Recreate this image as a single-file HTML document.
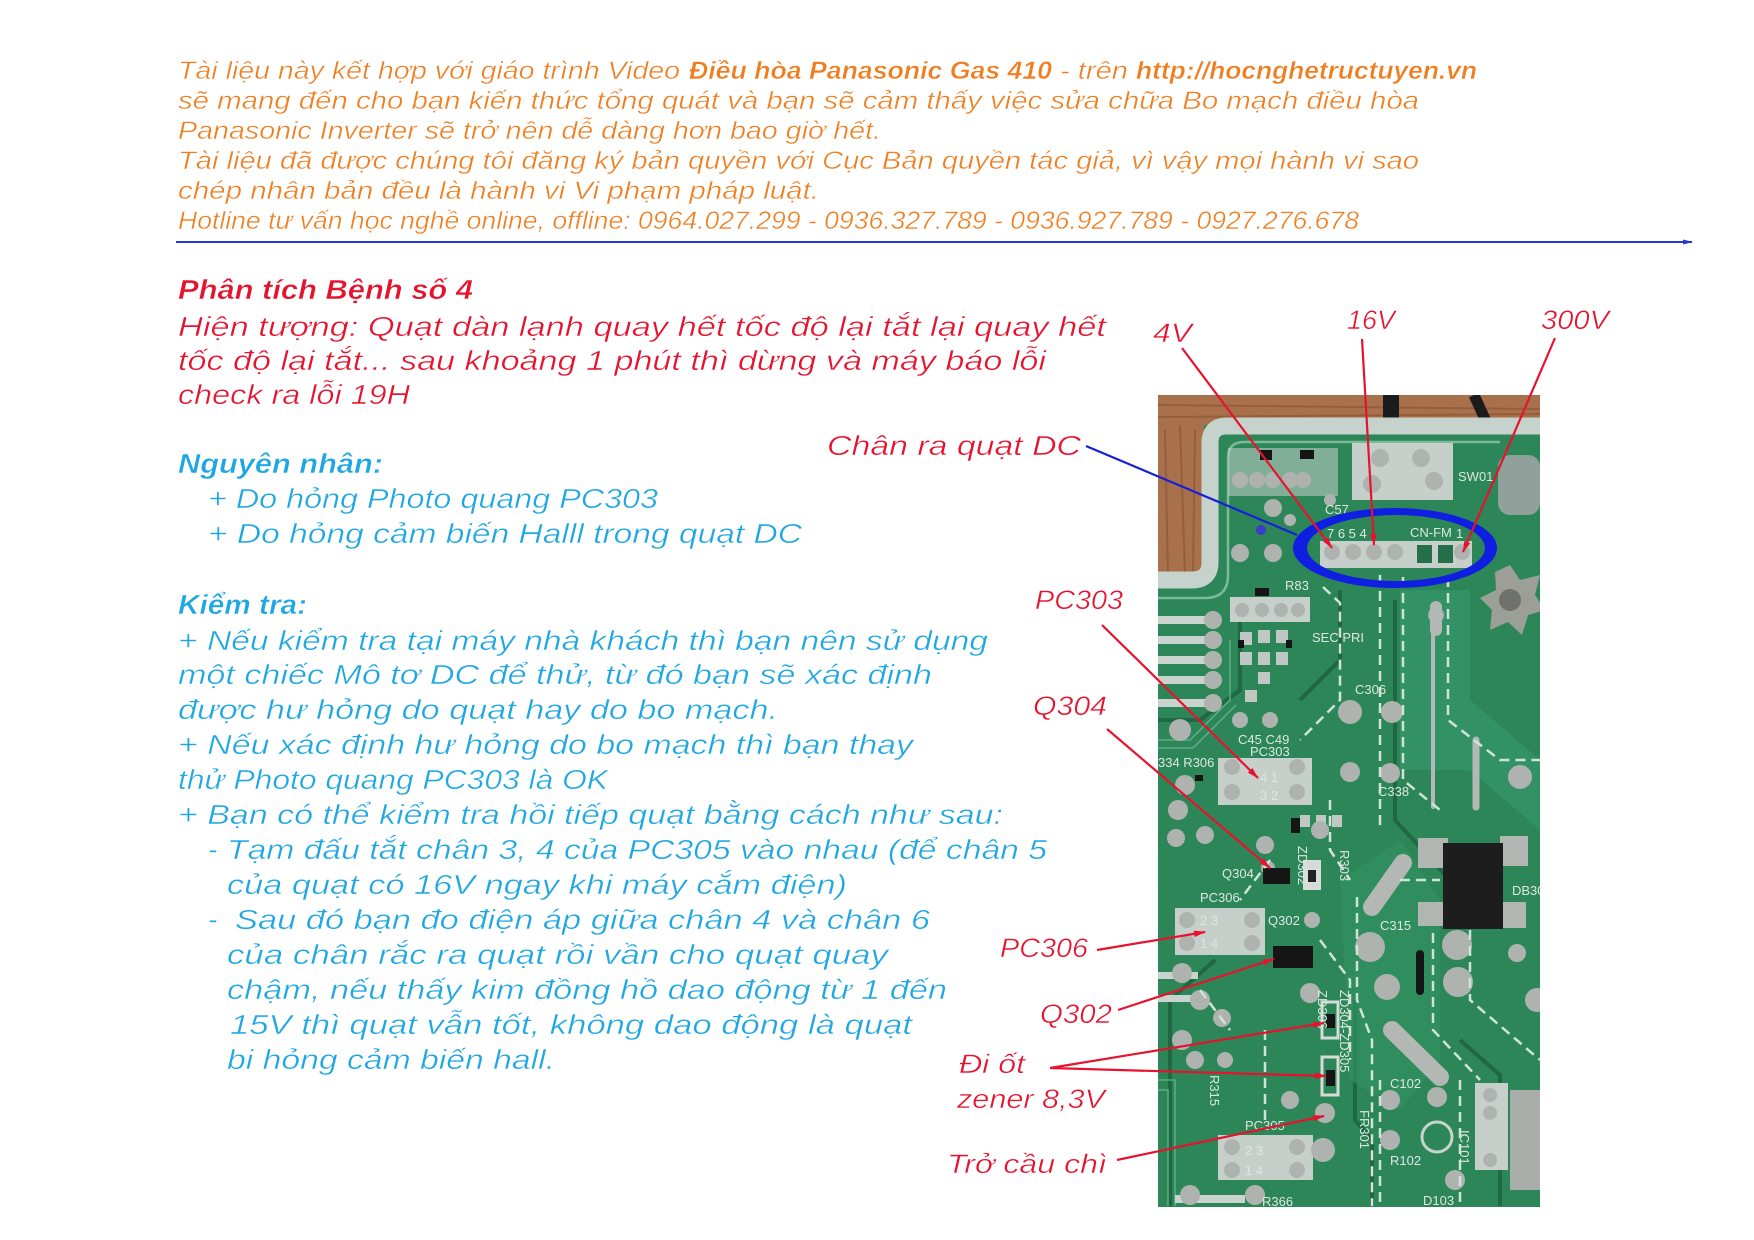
<!DOCTYPE html>
<html><head><meta charset="utf-8"><style>
html,body{margin:0;padding:0;background:#fff;}
svg{display:block;}
text{font-family:"Liberation Sans","DejaVu Sans",sans-serif;font-style:italic;}
.thin text{stroke:#fff;stroke-width:0.45px;}
.pcbt{font-family:"Liberation Sans","DejaVu Sans",sans-serif;font-style:normal;fill:#dde7e2;font-size:13px;}
</style></head><body>
<svg width="1754" height="1240" viewBox="0 0 1754 1240" xmlns="http://www.w3.org/2000/svg">
<defs>
<marker id="ar" markerWidth="12" markerHeight="8" refX="11" refY="4" orient="auto" markerUnits="userSpaceOnUse"><path d="M0,0.8 L12,4 L0,7.2 z" fill="#e5132e"/></marker>
<marker id="ab" markerWidth="10" markerHeight="6" refX="9" refY="3" orient="auto" markerUnits="userSpaceOnUse"><path d="M0,0.5 L10,3 L0,5.5 z" fill="#2239d4"/></marker>
<clipPath id="pc"><rect x="1158" y="395" width="382" height="812"/></clipPath>
</defs>

<!-- HEADER -->
<g class="thin" fill="#F07D1E" font-size="25">
<text x="178" y="79" textLength="502" lengthAdjust="spacingAndGlyphs">Tài liệu này kết hợp với giáo trình Video</text>
<text x="689" y="79" font-weight="bold" textLength="363" lengthAdjust="spacingAndGlyphs">Điều hòa Panasonic Gas 410</text>
<text x="1060" y="79" textLength="68" lengthAdjust="spacingAndGlyphs">- trên</text>
<text x="1136" y="79" font-weight="bold" textLength="341" lengthAdjust="spacingAndGlyphs">http://hocnghetructuyen.vn</text>
<text x="178" y="109" textLength="1241" lengthAdjust="spacingAndGlyphs">sẽ mang đến cho bạn kiến thức tổng quát và bạn sẽ cảm thấy việc sửa chữa Bo mạch điều hòa</text>
<text x="178" y="139" textLength="703" lengthAdjust="spacingAndGlyphs">Panasonic Inverter sẽ trở nên dễ dàng hơn bao giờ hết.</text>
<text x="178" y="169" textLength="1241" lengthAdjust="spacingAndGlyphs">Tài liệu đã được chúng tôi đăng ký bản quyền với Cục Bản quyền tác giả, vì vậy mọi hành vi sao</text>
<text x="178" y="199" textLength="641" lengthAdjust="spacingAndGlyphs">chép nhân bản đều là hành vi Vi phạm pháp luật.</text>
<text x="178" y="229" textLength="1181" lengthAdjust="spacingAndGlyphs">Hotline tư vấn học nghề online, offline: 0964.027.299 - 0936.327.789 - 0936.927.789 - 0927.276.678</text>
</g>
<line x1="176" y1="242" x2="1692" y2="242" stroke="#2239d4" stroke-width="2" marker-end="url(#ab)"/>

<!-- RED BODY -->
<g class="thin" fill="#E5132E" font-size="28">
<text x="178" y="299" font-weight="bold" textLength="295" lengthAdjust="spacingAndGlyphs">Phân tích Bệnh số 4</text>
<text x="178" y="336" textLength="928" lengthAdjust="spacingAndGlyphs">Hiện tượng: Quạt dàn lạnh quay hết tốc độ lại tắt lại quay hết</text>
<text x="178" y="370" textLength="868" lengthAdjust="spacingAndGlyphs">tốc độ lại tắt... sau khoảng 1 phút thì dừng và máy báo lỗi</text>
<text x="178" y="404" textLength="232" lengthAdjust="spacingAndGlyphs">check ra lỗi 19H</text>
<text x="827" y="455" textLength="254" lengthAdjust="spacingAndGlyphs">Chân ra quạt DC</text>
</g>

<!-- CYAN BODY -->
<g class="thin" fill="#1EA7E2" font-size="28">
<text x="178" y="473" font-weight="bold" textLength="205" lengthAdjust="spacingAndGlyphs">Nguyên nhân:</text>
<text x="208" y="508" textLength="450" lengthAdjust="spacingAndGlyphs">+ Do hỏng Photo quang PC303</text>
<text x="208" y="543" textLength="594" lengthAdjust="spacingAndGlyphs">+ Do hỏng cảm biến Halll trong quạt DC</text>
<text x="178" y="614" font-weight="bold" textLength="129" lengthAdjust="spacingAndGlyphs">Kiểm tra:</text>
<text x="178" y="650" textLength="810" lengthAdjust="spacingAndGlyphs">+ Nếu kiểm tra tại máy nhà khách thì bạn nên sử dụng</text>
<text x="178" y="684" textLength="754" lengthAdjust="spacingAndGlyphs">một chiếc Mô tơ DC để thử, từ đó bạn sẽ xác định</text>
<text x="178" y="719" textLength="600" lengthAdjust="spacingAndGlyphs">được hư hỏng do quạt hay do bo mạch.</text>
<text x="178" y="754" textLength="735" lengthAdjust="spacingAndGlyphs">+ Nếu xác định hư hỏng do bo mạch thì bạn thay</text>
<text x="178" y="789" textLength="430" lengthAdjust="spacingAndGlyphs">thử Photo quang PC303 là OK</text>
<text x="178" y="824" textLength="825" lengthAdjust="spacingAndGlyphs">+ Bạn có thể kiểm tra hồi tiếp quạt bằng cách như sau:</text>
<text x="208" y="859">-</text>
<text x="227" y="859" textLength="820" lengthAdjust="spacingAndGlyphs">Tạm đấu tắt chân 3, 4 của PC305 vào nhau (để chân 5</text>
<text x="227" y="894" textLength="620" lengthAdjust="spacingAndGlyphs">của quạt có 16V ngay khi máy cắm điện)</text>
<text x="208" y="929">-</text>
<text x="235" y="929" textLength="695" lengthAdjust="spacingAndGlyphs">Sau đó bạn đo điện áp giữa chân 4 và chân 6</text>
<text x="227" y="964" textLength="661" lengthAdjust="spacingAndGlyphs">của chân rắc ra quạt rồi vần cho quạt quay</text>
<text x="227" y="999" textLength="720" lengthAdjust="spacingAndGlyphs">chậm, nếu thấy kim đồng hồ dao động từ 1 đến</text>
<text x="230" y="1034" textLength="682" lengthAdjust="spacingAndGlyphs">15V  thì quạt vẫn tốt, không dao động là quạt</text>
<text x="227" y="1069" textLength="328" lengthAdjust="spacingAndGlyphs">bi hỏng cảm biến hall.</text>
</g>

<!-- PCB PHOTO -->
<g clip-path="url(#pc)">
<rect x="1158" y="395" width="382" height="812" fill="#2d8658"/>
<!-- wood -->
<rect x="1158" y="395" width="382" height="30" fill="#a9714b"/>
<rect x="1158" y="395" width="46" height="180" fill="#a9714b"/>
<g stroke="#8c5736" stroke-width="2" opacity="0.7">
<line x1="1158" y1="405" x2="1540" y2="409"/><line x1="1158" y1="417" x2="1540" y2="414"/>
<line x1="1165" y1="430" x2="1168" y2="575"/><line x1="1180" y1="425" x2="1185" y2="575"/><line x1="1195" y1="430" x2="1193" y2="575"/>
</g>
<!-- cables -->
<rect x="1383" y="395" width="16" height="36" fill="#1b1b1b"/>
<path d="M1474,395 L1490,430" stroke="#1b1b1b" stroke-width="11"/>
<!-- board edge frame -->
<path d="M1158,580 L1192,580 Q1210,580 1210,562 L1210,443 Q1210,426 1227,426 L1540,426" fill="none" stroke="#c6d3cd" stroke-width="17"/>
<path d="M1158,598 L1205,598 Q1228,598 1228,575 L1228,458 Q1228,442 1244,442 L1500,442" fill="none" stroke="#7cba98" stroke-width="2.5"/>
<!-- dark trace channels -->
<g fill="none" stroke="#1f6843" stroke-width="4">
<path d="M1158,720 L1200,720 L1240,690 L1240,600"/>
<path d="M1170,1206 L1170,1000 L1215,960"/>
<path d="M1300,700 L1340,660 L1340,590"/>
<path d="M1372,1206 L1372,1140 L1355,1120 L1355,1000"/>
<path d="M1460,1040 L1500,1075 L1500,1206"/>
<path d="M1395,600 L1395,820 L1450,880"/>
</g>
<!-- thin light traces on left -->
<g fill="none" stroke="#5fae85" stroke-width="1.5">
<path d="M1158,740 L1190,740 L1230,700 L1230,640"/>
<path d="M1158,748 L1193,748 L1236,705"/>
<path d="M1158,1080 L1175,1080 L1175,1206"/>
<path d="M1158,1090 L1168,1090 L1168,1206"/>
</g>
<!-- lighter copper areas -->
<path d="M1400,590 L1470,590 L1470,700 L1540,760 L1540,830 L1470,770 L1400,770 Z" fill="#35936a" opacity="0.8"/>
<path d="M1340,880 L1400,840 L1440,900 L1440,1060 L1400,1110 L1350,1080 Z" fill="#32905f" opacity="0.7"/>
<!-- left pin bars -->
<g fill="#c9d4cf">
<rect x="1158" y="616" width="50" height="8"/><rect x="1158" y="636" width="50" height="8"/>
<rect x="1158" y="656" width="50" height="8"/><rect x="1158" y="676" width="50" height="8"/>
<rect x="1158" y="699" width="50" height="8"/>
<rect x="1158" y="972" width="40" height="7"/><rect x="1158" y="995" width="40" height="7"/>
<rect x="1175" y="1195" width="70" height="8"/>
</g>
<!-- grey blocks -->
<g fill="#c7cfcb">
<rect x="1352" y="443" width="101" height="57"/>
<rect x="1320" y="541" width="152" height="27"/>
<rect x="1230" y="597" width="80" height="25"/>
<rect x="1218" y="758" width="94" height="47"/>
<rect x="1175" y="908" width="90" height="47"/>
<rect x="1218" y="1135" width="95" height="45"/>
<rect x="1475" y="1083" width="33" height="87"/>
<rect x="1228" y="448" width="110" height="48" opacity="0.55"/>
</g>
<rect x="1510" y="1090" width="30" height="100" fill="#a9aeab"/>
<!-- SMD cluster under R83 -->
<g fill="#c0c8c4">
<rect x="1240" y="632" width="12" height="13"/><rect x="1258" y="630" width="12" height="13"/><rect x="1276" y="630" width="12" height="13"/>
<rect x="1240" y="652" width="12" height="13"/><rect x="1258" y="652" width="12" height="13"/><rect x="1276" y="652" width="12" height="13"/>
<rect x="1258" y="672" width="12" height="12"/><rect x="1245" y="690" width="12" height="12"/>
<rect x="1300" y="815" width="10" height="12"/><rect x="1316" y="815" width="10" height="12"/><rect x="1332" y="815" width="10" height="12"/>
</g>
<!-- silver pads -->
<g fill="#aeb3b0">
<circle cx="1380" cy="458" r="9"/><circle cx="1421" cy="458" r="9"/><circle cx="1372" cy="484" r="9"/><circle cx="1434" cy="481" r="9"/>
<circle cx="1332" cy="552" r="8"/><circle cx="1353" cy="552" r="8"/><circle cx="1374" cy="552" r="8"/><circle cx="1395" cy="552" r="8"/><circle cx="1462" cy="552" r="8"/>
<circle cx="1240" cy="480" r="8"/><circle cx="1257" cy="480" r="8"/><circle cx="1273" cy="480" r="8"/><circle cx="1290" cy="480" r="8"/><circle cx="1303" cy="480" r="8"/>
<circle cx="1240" cy="553" r="9"/><circle cx="1273" cy="553" r="9"/><circle cx="1273" cy="508" r="9"/><circle cx="1290" cy="520" r="6"/>
<circle cx="1242" cy="610" r="7"/><circle cx="1262" cy="610" r="7"/><circle cx="1281" cy="610" r="7"/><circle cx="1298" cy="610" r="7"/>
<circle cx="1213" cy="620" r="9"/><circle cx="1213" cy="640" r="9"/><circle cx="1213" cy="660" r="9"/><circle cx="1213" cy="680" r="9"/><circle cx="1213" cy="703" r="9"/>
<circle cx="1180" cy="730" r="11"/><circle cx="1185" cy="785" r="10"/><circle cx="1330" cy="500" r="6"/>
<circle cx="1350" cy="712" r="12"/><circle cx="1392" cy="712" r="11"/><circle cx="1390" cy="773" r="10"/><circle cx="1350" cy="772" r="10"/>
<circle cx="1232" cy="767" r="8"/><circle cx="1232" cy="792" r="8"/><circle cx="1297" cy="767" r="8"/><circle cx="1297" cy="792" r="8"/>
<circle cx="1187" cy="920" r="8"/><circle cx="1187" cy="943" r="8"/><circle cx="1252" cy="920" r="8"/><circle cx="1252" cy="943" r="8"/>
<circle cx="1232" cy="1147" r="8"/><circle cx="1232" cy="1170" r="8"/><circle cx="1297" cy="1147" r="8"/><circle cx="1297" cy="1170" r="8"/>
<circle cx="1370" cy="947" r="15"/><circle cx="1457" cy="945" r="15"/><circle cx="1458" cy="982" r="15"/><circle cx="1387" cy="987" r="13"/>
<circle cx="1517" cy="953" r="9"/><circle cx="1537" cy="1000" r="12"/><circle cx="1390" cy="1100" r="10"/><circle cx="1437" cy="1097" r="10"/>
<circle cx="1390" cy="1140" r="10"/><circle cx="1323" cy="1150" r="12"/><circle cx="1325" cy="1113" r="10"/><circle cx="1310" cy="993" r="10"/>
<circle cx="1290" cy="1100" r="9"/><circle cx="1182" cy="973" r="10"/><circle cx="1200" cy="1000" r="10"/><circle cx="1222" cy="1018" r="9"/>
<circle cx="1182" cy="1040" r="10"/><circle cx="1178" cy="810" r="10"/><circle cx="1176" cy="838" r="9"/><circle cx="1205" cy="835" r="9"/>
<circle cx="1490" cy="1095" r="7"/><circle cx="1490" cy="1113" r="7"/><circle cx="1490" cy="1160" r="7"/>
<circle cx="1320" cy="830" r="9"/><circle cx="1265" cy="845" r="9"/><circle cx="1190" cy="1195" r="10"/><circle cx="1255" cy="1195" r="10"/>
<circle cx="1436" cy="615" r="8"/><circle cx="1520" cy="777" r="12"/><circle cx="1455" cy="1180" r="10"/>
<circle cx="1268" cy="868" r="7"/><circle cx="1240" cy="720" r="8"/><circle cx="1270" cy="720" r="8"/>
<circle cx="1312" cy="920" r="8"/><circle cx="1195" cy="1060" r="9"/><circle cx="1225" cy="1060" r="8"/>
</g>
<circle cx="1437" cy="1137" r="15" fill="none" stroke="#c7d4ce" stroke-width="3"/>
<!-- elongated silver -->
<g stroke="#b3b8b5" stroke-linecap="round" fill="none">
<path d="M1372,907 L1403,863" stroke-width="18"/>
<path d="M1392,1030 L1440,1077" stroke-width="18"/>
<path d="M1436,607 L1436,630" stroke-width="12"/>
<path d="M1476,740 L1476,807" stroke-width="7"/>
<path d="M1433,630 L1433,807" stroke-width="4"/>
</g>
<!-- star component -->
<path d="M1510,565 L1520,580 L1540,575 L1535,595 L1545,610 L1528,615 L1522,635 L1508,622 L1490,630 L1492,610 L1480,598 L1496,590 L1495,572 Z" fill="#9c9f98"/>
<circle cx="1510" cy="600" r="11" fill="#6e716c"/>
<rect x="1498" y="455" width="42" height="60" rx="12" fill="#8fa19a"/>
<!-- big IC -->
<rect x="1418" y="838" width="30" height="30" fill="#b2b6b3"/><rect x="1418" y="902" width="28" height="24" fill="#b2b6b3"/>
<rect x="1500" y="836" width="28" height="30" fill="#b2b6b3"/><rect x="1500" y="902" width="26" height="26" fill="#b2b6b3"/>
<rect x="1443" y="843" width="60" height="86" fill="#1c1d1c"/>
<!-- small black parts -->
<g fill="#151515">
<rect x="1263" y="868" width="27" height="16"/>
<rect x="1273" y="946" width="40" height="22"/>
<rect x="1326" y="1014" width="9" height="14"/>
<rect x="1326" y="1070" width="9" height="16"/>
<rect x="1291" y="818" width="9" height="15"/>
<rect x="1417" y="545" width="15" height="18" fill="#246e4a"/>
<rect x="1438" y="545" width="15" height="18" fill="#246e4a"/>
<rect x="1416" y="950" width="8" height="45" rx="4"/>
<rect x="1260" y="450" width="12" height="10"/><rect x="1300" y="450" width="14" height="9"/>
<rect x="1255" y="588" width="14" height="8"/>
<rect x="1238" y="640" width="6" height="8"/><rect x="1286" y="640" width="6" height="8"/>
<rect x="1195" y="775" width="8" height="6"/>
</g>
<rect x="1322" y="1002" width="16" height="36" fill="none" stroke="#d5dcd8" stroke-width="3"/>
<rect x="1322" y="1057" width="16" height="38" fill="none" stroke="#d5dcd8" stroke-width="3"/>
<rect x="1303" y="860" width="18" height="30" fill="#d8dcd9"/><rect x="1308" y="870" width="8" height="12" fill="#222"/>
<circle cx="1261" cy="530" r="5" fill="#3c3cc8"/>
<!-- dashed silkscreen lines -->
<g fill="none" stroke="#cfe3d8" stroke-width="2.5" stroke-dasharray="10 6">
<path d="M1323,587 L1340,603 L1340,700 L1300,740"/>
<path d="M1380,575 L1380,830"/>
<path d="M1403,577 L1403,780 L1440,810"/>
<path d="M1448,577 L1448,720 L1500,760 L1540,760"/>
<path d="M1357,897 L1357,1000 L1372,1040 L1372,1206"/>
<path d="M1330,800 L1330,850 L1350,880"/>
<path d="M1433,933 L1433,1030 L1480,1080"/>
<path d="M1470,930 L1470,1000 L1540,1060"/>
<path d="M1380,1080 L1380,1206"/>
<path d="M1460,1080 L1460,1206"/>
<path d="M1270,860 L1240,900"/>
<path d="M1320,940 L1350,980 L1350,1060"/>
<path d="M1400,880 L1440,880"/>
<path d="M1200,990 L1230,1030"/>
<path d="M1265,1030 L1265,1120"/>
</g>
<!-- silkscreen text -->
<text class="pcbt" x="1458" y="481">SW01</text>
<text class="pcbt" x="1327" y="538">7  6  5  4</text>
<text class="pcbt" x="1410" y="537">CN-FM</text>
<text class="pcbt" x="1456" y="538">1</text>
<text class="pcbt" x="1325" y="514">C57</text>
<text class="pcbt" x="1285" y="590">R83</text>
<text class="pcbt" x="1312" y="642">SEC  PRI</text>
<text class="pcbt" x="1355" y="694">C306</text>
<text class="pcbt" x="1238" y="744">C45 C49</text>
<text class="pcbt" x="1250" y="756">PC303</text>
<text class="pcbt" x="1158" y="767">334 R306</text>
<text class="pcbt" x="1378" y="796">C338</text>
<text class="pcbt" x="1222" y="878">Q304</text>
<text class="pcbt" x="1200" y="902">PC306</text>
<text class="pcbt" x="1268" y="925">Q302</text>
<text class="pcbt" x="1380" y="930">C315</text>
<text class="pcbt" x="1512" y="895">DB30</text>
<text class="pcbt" x="1390" y="1088">C102</text>
<text class="pcbt" x="1390" y="1165">R102</text>
<text class="pcbt" x="1423" y="1205">D103</text>
<text class="pcbt" x="1245" y="1130">PC305</text>
<text class="pcbt" x="1262" y="1206">R366</text>
<text class="pcbt" x="1260" y="782">4    1</text>
<text class="pcbt" x="1260" y="800">3    2</text>
<text class="pcbt" x="1200" y="925">2   3</text>
<text class="pcbt" x="1200" y="948">1   4</text>
<text class="pcbt" x="1245" y="1155">2   3</text>
<text class="pcbt" x="1245" y="1175">1   4</text>
<text class="pcbt" transform="translate(1298,846) rotate(90)">ZD302</text>
<text class="pcbt" transform="translate(1340,990) rotate(90)">ZD304-ZD305</text>
<text class="pcbt" transform="translate(1318,990) rotate(90)">ZD306</text>
<text class="pcbt" transform="translate(1210,1075) rotate(90)">R315</text>
<text class="pcbt" transform="translate(1360,1110) rotate(90)">FR301</text>
<text class="pcbt" transform="translate(1460,1130) rotate(90)">IC101</text>
<text class="pcbt" transform="translate(1340,850) rotate(90)">R303</text>
</g>

<!-- BLUE ELLIPSE + CONNECTOR -->
<path d="M1293,548 a102,40 0 1,0 204,0 a102,40 0 1,0 -204,0 Z M1307,548 a89,33 0 1,0 178,0 a89,33 0 1,0 -178,0 Z" fill="#0f1ee0" fill-rule="evenodd"/>
<line x1="1086" y1="446" x2="1297" y2="535" stroke="#1520d8" stroke-width="2.2"/>

<!-- RED LABELS -->
<g class="thin" fill="#E5132E" font-size="27">
<text x="1153" y="342" textLength="39" lengthAdjust="spacingAndGlyphs">4V</text>
<text x="1347" y="329" textLength="48" lengthAdjust="spacingAndGlyphs">16V</text>
<text x="1541" y="329" textLength="68" lengthAdjust="spacingAndGlyphs">300V</text>
<text x="1035" y="609" textLength="88" lengthAdjust="spacingAndGlyphs">PC303</text>
<text x="1033" y="715" textLength="74" lengthAdjust="spacingAndGlyphs">Q304</text>
<text x="1000" y="957" textLength="88" lengthAdjust="spacingAndGlyphs">PC306</text>
<text x="1040" y="1023" textLength="72" lengthAdjust="spacingAndGlyphs">Q302</text>
<text x="959" y="1073" textLength="66" lengthAdjust="spacingAndGlyphs">Đi ốt</text>
<text x="957" y="1108" textLength="148" lengthAdjust="spacingAndGlyphs">zener 8,3V</text>
<text x="947" y="1173" textLength="160" lengthAdjust="spacingAndGlyphs">Trở cầu chì</text>
</g>
<g stroke="#e5132e" stroke-width="2.2" fill="none">
<line x1="1182" y1="348" x2="1332" y2="548" marker-end="url(#ar)"/>
<line x1="1362" y1="339" x2="1374" y2="545" marker-end="url(#ar)"/>
<line x1="1555" y1="338" x2="1463" y2="552" marker-end="url(#ar)"/>
<line x1="1102" y1="625" x2="1258" y2="778" marker-end="url(#ar)"/>
<line x1="1107" y1="729" x2="1270" y2="868" marker-end="url(#ar)"/>
<line x1="1097" y1="950" x2="1205" y2="932" marker-end="url(#ar)"/>
<line x1="1118" y1="1010" x2="1274" y2="959" marker-end="url(#ar)"/>
<line x1="1050" y1="1068" x2="1324" y2="1023" marker-end="url(#ar)"/>
<line x1="1050" y1="1068" x2="1326" y2="1076" marker-end="url(#ar)"/>
<line x1="1117" y1="1160" x2="1324" y2="1116" marker-end="url(#ar)"/>
</g>
</svg>
</body></html>
